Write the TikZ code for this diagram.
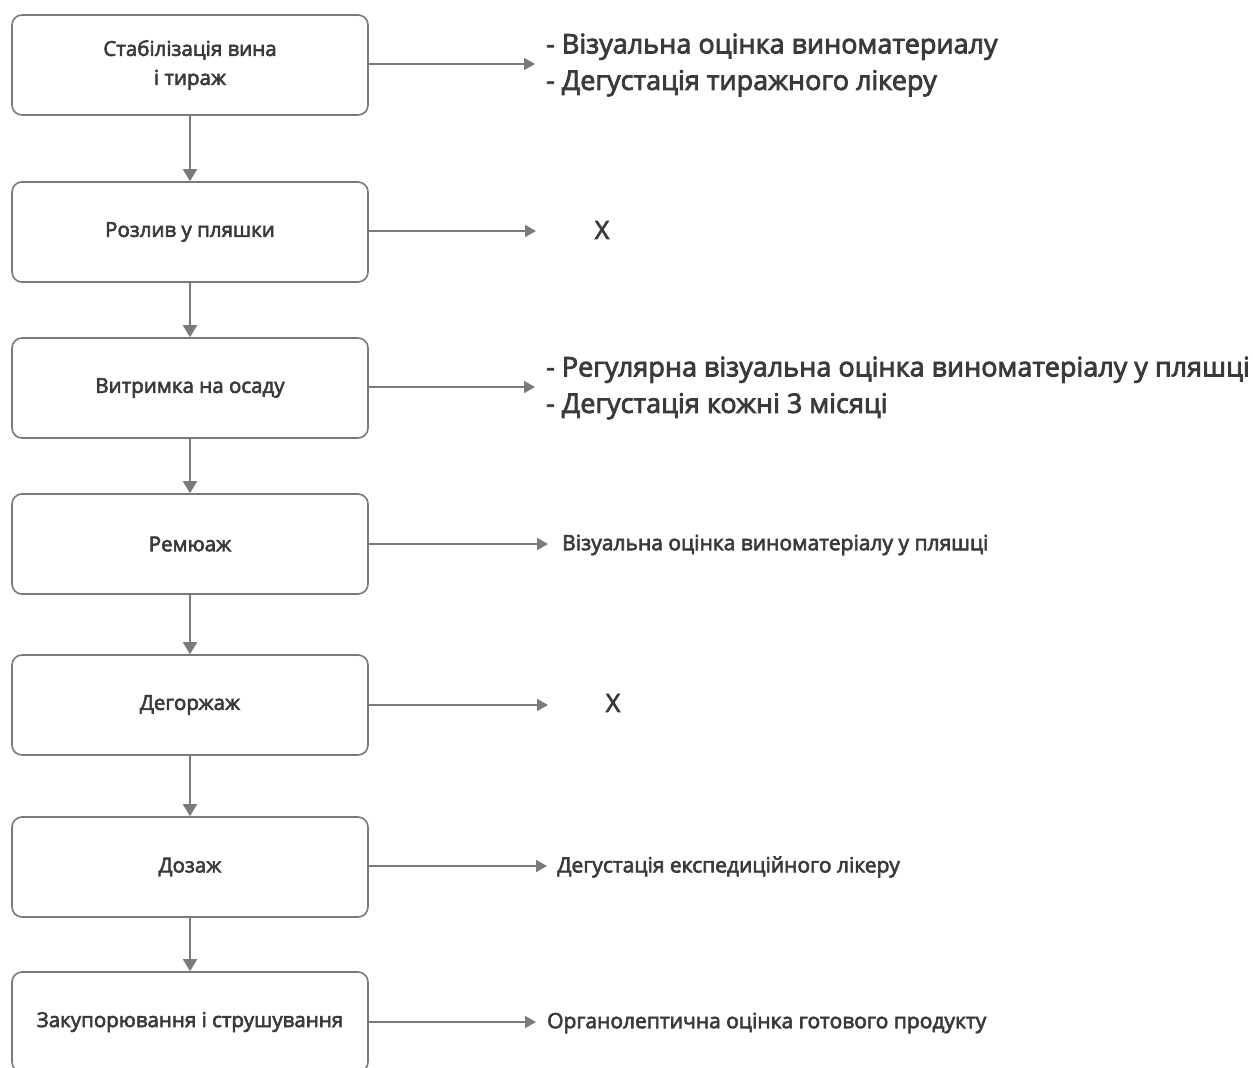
\documentclass[tikz,border=0pt]{standalone}
\usepackage{fontspec}
\setmainfont{Open Sans}
\newfontfamily\semib{Open Sans}[FakeBold=3]
\usetikzlibrary{arrows.meta}
\definecolor{txt}{HTML}{3A3A3A}
\definecolor{ln}{HTML}{7A7A7A}
\tikzset{
  stepbox/.style={draw=ln, line width=1.6pt, rounded corners=10pt, minimum width=356pt, minimum height=100pt, inner sep=0pt, text=txt, font=\semib\fontsize{20.5}{29}\selectfont, align=center},
  down/.style={draw=ln, line width=1.8pt, -{Triangle[width=14pt,length=12pt]}},
  side/.style={draw=ln, line width=1.8pt, -{Triangle[width=12pt,length=11pt]}},
  bignote/.style={anchor=west, inner sep=0pt, text=txt, font=\semib\fontsize{27}{36.5}\selectfont, align=left},
  smallnote/.style={anchor=west, inner sep=0pt, text=txt, font=\semib\fontsize{21}{24}\selectfont, align=left},
  xnote/.style={inner sep=0pt, text=txt, font=\semib\fontsize{25}{28}\selectfont},
}
\begin{document}
\begin{tikzpicture}[x=1pt,y=-1pt]
\useasboundingbox (0,0) rectangle (1253,1068);
\node[stepbox] (b1) at (190,65) {Стабілізація вина\\і тираж};
\node[stepbox] (b2) at (190,232) {Розлив у пляшки};
\node[stepbox] (b3) at (190,388) {Витримка на осаду};
\node[stepbox] (b4) at (190,544) {Ремюаж};
\node[stepbox] (b5) at (190,705) {Дегоржаж};
\node[stepbox] (b6) at (190,867) {Дозаж};
\node[stepbox] (b7) at (190,1022) {Закупорювання і струшування};
\draw[down] (b1) -- (b2);
\draw[down] (b2) -- (b3);
\draw[down] (b3) -- (b4);
\draw[down] (b4) -- (b5);
\draw[down] (b5) -- (b6);
\draw[down] (b6) -- (b7);
\node[bignote] (t1) at (546,65) {- Візуальна оцінка виноматериалу\\- Дегустація тиражного лікеру};
\node[xnote] (t2) at (602,230) {X};
\node[bignote] (t3) at (546,388) {- Регулярна візуальна оцінка виноматеріалу у пляшці\\- Дегустація кожні 3 місяці};
\node[smallnote] (t4) at (562,545) {Візуальна оцінка виноматеріалу у пляшці};
\node[xnote] (t5) at (613,703) {X};
\node[smallnote] (t6) at (557,867) {Дегустація експедиційного лікеру};
\node[smallnote] (t7) at (547,1023) {Органолептична оцінка готового продукту};
\coordinate (e1) at (535,64);
\coordinate (e2) at (536,231);
\coordinate (e3) at (535,387);
\coordinate (e4) at (548,544);
\coordinate (e5) at (548,705);
\coordinate (e6) at (547,866);
\coordinate (e7) at (536,1022);
\draw[side] (b1.east |- e1) -- (e1);
\draw[side] (b2.east |- e2) -- (e2);
\draw[side] (b3.east |- e3) -- (e3);
\draw[side] (b4.east |- e4) -- (e4);
\draw[side] (b5.east |- e5) -- (e5);
\draw[side] (b6.east |- e6) -- (e6);
\draw[side] (b7.east |- e7) -- (e7);
\end{tikzpicture}
\end{document}
